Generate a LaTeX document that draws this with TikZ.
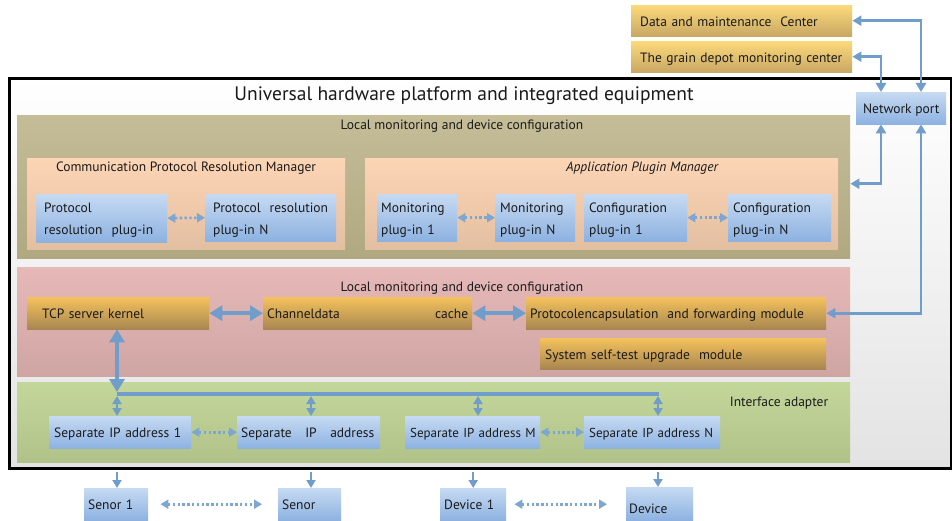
\documentclass[tikz,border=0pt]{standalone}
\usepackage{fontspec}
\setmainfont{PT Sans}
\usetikzlibrary{arrows.meta}
\definecolor{arr}{RGB}{112,157,201}
\definecolor{darr}{RGB}{126,166,210}
\definecolor{goldA}{RGB}{252,217,122}
\definecolor{goldB}{RGB}{200,168,100}
\definecolor{modA}{RGB}{244,194,92}
\definecolor{modB}{RGB}{168,134,80}
\definecolor{blueA}{RGB}{198,218,242}
\definecolor{blueB}{RGB}{141,178,225}
\definecolor{oliveA}{RGB}{196,189,152}
\definecolor{oliveB}{RGB}{176,168,128}
\definecolor{peachA}{RGB}{252,213,181}
\definecolor{peachB}{RGB}{227,191,161}
\definecolor{pinkA}{RGB}{230,185,184}
\definecolor{pinkB}{RGB}{207,165,164}
\definecolor{greenA}{RGB}{196,215,155}
\definecolor{greenB}{RGB}{176,194,136}
\definecolor{txt}{RGB}{26,26,26}
\tikzset{
  boxbase/.style={rectangle, inner ysep=0pt, anchor=north west, draw=none, text=txt},
  single/.style={text height=14.5pt, text depth=3pt},
  double/.style={text height=14pt, font=\fontsize{13.5}{22}\selectfont, align=left},
  centerbox/.style={boxbase, single, top color=goldA, bottom color=goldB},
  modbox/.style={boxbase, single, top color=modA, bottom color=modB},
  bluebox/.style={boxbase, top color=blueA, bottom color=blueB},
  panel/.style={rectangle, inner sep=0pt, anchor=north west, draw=none},
  lbl/.style={text=txt, inner sep=0pt},
  netarr/.style={draw=arr, line width=2.6pt, {Triangle[width=10pt,length=9pt]}-{Triangle[width=10pt,length=9pt]}},
  bigarr/.style={draw=arr, line width=4pt, {Triangle[width=15pt,length=13pt]}-{Triangle[width=15pt,length=13pt]}},
  smallarr/.style={draw=arr, line width=2.4pt, {Triangle[width=9pt,length=8pt]}-{Triangle[width=9pt,length=8pt]}},
  downarr/.style={draw=arr, line width=2.4pt, -{Triangle[width=9pt,length=8pt]}},
  busline/.style={draw=arr, line width=3.5pt},
  dotarr/.style={draw=darr, line width=2.6pt, dash pattern=on 2.4pt off 2.4pt, {Triangle[width=9pt,length=8pt]}-{Triangle[width=9pt,length=8pt]}}
}
\begin{document}
\begin{tikzpicture}[x=1pt,y=-1pt, font=\fontsize{13.5}{16}\selectfont]
\useasboundingbox[fill=white] (0,0) rectangle (952,521);

% outer frame
\node[panel, minimum width=942pt, minimum height=390pt, top color=white, bottom color=black!11, draw=black, line width=3pt] (outer) at (8,77) {};

% top centers and network port
\node[centerbox, inner xsep=9pt, text width=203pt, minimum height=31pt] (dc) at (631,5) {\mbox{Data and maintenance\ \ Center}};
\node[centerbox, inner xsep=9pt, text width=203pt, minimum height=31pt] (gd) at (631,41) {\mbox{The grain depot monitoring center}};
\node[bluebox, single, inner xsep=0pt, minimum width=90pt, minimum height=32pt] (np) at (856,92) {Network port};

\node[lbl, font=\fontsize{19.5}{22}\selectfont] (title) at (464,96) {Universal hardware platform and integrated equipment};

% olive panel
\node[panel, minimum width=833pt, minimum height=143pt, top color=oliveA, bottom color=oliveB] (olive) at (17,115) {};
\node[lbl] (olivelbl) at (462,126) {Local monitoring and device configuration};

\node[panel, minimum width=318pt, minimum height=91pt, top color=peachA, bottom color=peachB] (cprm) at (27,158) {};
\node[lbl] (cprmlbl) at (186,168) {Communication Protocol Resolution Manager};
\node[panel, minimum width=473pt, minimum height=91pt, top color=peachA, bottom color=peachB] (apm) at (365,158) {};
\node[lbl, font=\fontsize{13.5}{16}\selectfont\itshape] (apmlbl) at (642,168) {Application Plugin Manager};

\node[bluebox, double, inner xsep=8pt, text width=115pt, minimum height=48pt] (pr1) at (36,194) {Protocol\\\mbox{resolution\ \ plug-in}};
\node[bluebox, double, inner xsep=8pt, text width=115pt, minimum height=47pt] (prN) at (205,194) {\mbox{Protocol\ \ resolution}\\plug-in N};
\node[bluebox, double, inner xsep=4pt, text width=72pt, minimum height=47pt] (m1) at (377,194) {Monitoring\\plug-in 1};
\node[bluebox, double, inner xsep=5pt, text width=70pt, minimum height=47pt] (mN) at (495,194) {Monitoring\\plug-in N};
\node[bluebox, double, inner xsep=5pt, text width=93pt, minimum height=47pt] (c1) at (584,194) {Configuration\\plug-in 1};
\node[bluebox, double, inner xsep=5pt, text width=93pt, minimum height=47pt] (cN) at (728,194) {Configuration\\plug-in N};

% pink panel
\node[panel, minimum width=833pt, minimum height=109pt, top color=pinkA, bottom color=pinkB] (pink) at (17,267) {};
\node[lbl] (pinklbl) at (462,288) {Local monitoring and device configuration};
\node[modbox, inner xsep=15pt, text width=152pt, minimum height=32pt] (tcp) at (27,297) {\mbox{TCP server kernel}};
\node[modbox, inner xsep=4pt, text width=201pt, minimum height=32pt] (cd) at (263,297) {Channeldata\hfill cache};
\node[modbox, inner xsep=4pt, text width=292pt, minimum height=32pt] (pe) at (526,297) {\mbox{Protocolencapsulation\ \ and forwarding module}};
\node[modbox, inner xsep=5pt, text width=276pt, minimum height=31pt] (st) at (540,338) {\mbox{System self-test upgrade\ \ module}};

% green panel
\node[panel, minimum width=833pt, minimum height=80pt, top color=greenA, bottom color=greenB] (green) at (17,382) {};
\node[lbl] (greenlbl) at (779,403) {Interface adapter};
\node[bluebox, single, inner xsep=5pt, text width=132pt, minimum height=32pt] (ip1) at (49,416) {\mbox{Separate IP address 1}};
\node[bluebox, single, inner xsep=4pt, text width=135pt, minimum height=32pt] (ip2) at (237,416) {\mbox{Separate\ \ \ IP\ \ \ address}};
\node[bluebox, single, inner xsep=5pt, text width=125pt, minimum height=32pt, font=\fontsize{13}{16}\selectfont] (ipM) at (405,416) {\mbox{Separate IP address M}};
\node[bluebox, single, inner xsep=5pt, text width=126pt, minimum height=32pt, font=\fontsize{13}{16}\selectfont] (ipN) at (584,416) {\mbox{Separate IP address N}};

% field devices
\node[bluebox, single, inner xsep=4pt, text width=56pt, minimum height=32pt] (sen1) at (84,488) {\mbox{Senor 1}};
\node[bluebox, single, inner xsep=4pt, text width=55pt, minimum height=32pt] (sen2) at (278,488) {Senor};
\node[bluebox, single, inner xsep=4pt, text width=58pt, minimum height=32pt] (dev1) at (440,488) {\mbox{Device 1}};
\node[bluebox, single, inner xsep=3pt, text width=61pt, minimum height=33pt] (dev2) at (626,487) {\raisebox{-4pt}[\height][\depth]{Device}};

% network connectors
\draw[netarr] (dc.east) -| ([xshift=65pt]np.north west);
\draw[netarr] (gd.east) -| ([xshift=25pt]np.north west);
\draw[netarr] ([xshift=25pt]np.south west) |- ([yshift=3pt]olive.east);
\draw[netarr] ([xshift=65pt]np.south west) |- (pe.east);

% module connectors
\draw[bigarr] (tcp.east) -- (cd.west);
\draw[bigarr] (cd.east) -- (pe.west);

% bus
\coordinate (busL) at (117,394);
\coordinate (busR) at (659,394);
\coordinate (b1) at (117,396);
\coordinate (b2) at (311,396);
\coordinate (b3) at (478,396);
\coordinate (b4) at (658,396);
\draw[busline] (busL) -- (busR);
\draw[bigarr] (tcp.south -| busL) -- ([yshift=2pt]busL);
\draw[smallarr] (b1) -- (b1 |- ip1.north);
\draw[smallarr] (b2) -- (b2 |- ip2.north);
\draw[smallarr] (b3) -- (b3 |- ipM.north);
\draw[smallarr] (b4) -- (b4 |- ipN.north);

% dotted connectors
\draw[dotarr] (pr1.east) -- (prN.west);
\draw[dotarr] (m1.east) -- (mN.west);
\draw[dotarr] (c1.east) -- (cN.west);
\draw[dotarr] (ip1.east) -- (ip2.west);
\draw[dotarr] (ipM.east) -- (ipN.west);
\draw[dotarr, shorten <=12pt, shorten >=16pt] (sen1.east) -- (sen2.west);
\draw[dotarr, shorten <=8pt, shorten >=19pt] (dev1.east) -- (dev1.east -| dev2.west);

% down arrows to field devices
\draw[downarr] ([yshift=-1.5pt]outer.south -| b1) -- (b1 |- sen1.north);
\draw[downarr] ([yshift=-1.5pt]outer.south -| b2) -- (b2 |- sen2.north);
\draw[downarr] ([yshift=-1.5pt]outer.south -| dev1.north) -- (dev1.north);
\draw[downarr] ([yshift=-1.5pt]outer.south -| b4) -- (b4 |- dev2.north);
\end{tikzpicture}
\end{document}
